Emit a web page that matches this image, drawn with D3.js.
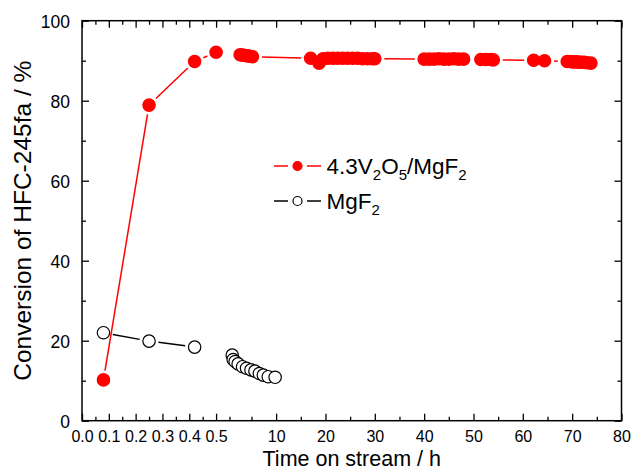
<!DOCTYPE html>
<html>
<head>
<meta charset="utf-8">
<script src="https://cdn.jsdelivr.net/npm/d3@7"></script>
<style>
  body { margin: 0; background: #fff; }
  svg { font-family: "Liberation Sans", Arial, sans-serif; }
</style>
</head>
<body>
<svg id="chart"></svg>
<script>

// DATA
const vTime = [0.08, 0.25, 0.42, 0.5,
  2.7, 3.2, 3.7, 4.2, 4.7, 5.2,
  17, 18.7, 19.5, 20.5, 21.5, 22.5, 23.5, 24.5, 25.5, 26.5, 27.5, 28.5, 29.5, 30,
  40, 41, 42, 43, 44, 45, 46, 47, 48,
  51.5, 52.5, 53.5, 54,
  62.2, 64.4,
  69, 69.5, 70, 70.5, 71, 71.5, 72, 72.5, 73, 73.8];
const vConv = [10.2, 78.9, 89.8, 92.1,
  91.5, 91.4, 91.3, 91.2, 91.1, 91.0,
  90.6, 89.4, 90.5, 90.6, 90.6, 90.6, 90.6, 90.6, 90.6, 90.6, 90.5, 90.5, 90.5, 90.5,
  90.4, 90.4, 90.4, 90.5, 90.4, 90.4, 90.5, 90.4, 90.4,
  90.3, 90.3, 90.3, 90.2,
  90.1, 90.0,
  89.8, 89.8, 89.7, 89.7, 89.7, 89.6, 89.6, 89.6, 89.5, 89.4];

const mTime = [0.08, 0.25, 0.42, 1.1, 1.3, 1.7, 2.3, 3.2, 4.0, 4.9, 5.7, 6.6, 7.4, 8.4, 9.8];
const mConv = [22.0, 19.9, 18.4, 16.4, 15.3, 14.8, 14.2, 13.5, 13.1, 12.7, 12.4, 11.8, 11.4, 11.0, 10.85];

// tick values: the x axis is broken at 0.55 h
const xMajor = [0, 0.1, 0.2, 0.3, 0.4, 0.5, 10, 20, 30, 40, 50, 60, 70, 80];
const xMinor = [0.05, 0.15, 0.25, 0.35, 0.45, 0.55, 5, 15, 25, 35, 45, 55, 65, 75];
const yMajor = [0, 20, 40, 60, 80, 100];
const yMinor = [10, 30, 50, 70, 90];
const xBreak = 0.55;

const width = 631, height = 470;
const margin = { top: 20.7, right: 9.5, bottom: 49.3, left: 82 };

const svg = d3.select("#chart")
  .attr("width", width)
  .attr("height", height);

// + SCALES
const xScale = d3.scaleLinear()
  .domain([0, xBreak, 80])
  .range([margin.left, 229.5, width - margin.right]);

const yScale = d3.scaleLinear()
  .domain([0, 100])
  .range([height - margin.bottom, margin.top]);

const x0 = margin.left, x1 = width - margin.right;
const y0 = height - margin.bottom, y1 = margin.top;

// + AXES (ticks point inwards, mirrored on top and right)
const fmtX = d => d < 1 ? d.toFixed(1) : d3.format("d")(d);

function addAxis(axis, tx, ty, showLabels, fs) {
  const g = svg.append("g")
    .attr("transform", `translate(${tx}, ${ty})`)
    .call(axis);
  g.select(".domain").remove();
  g.selectAll("line").attr("stroke", "#000").attr("stroke-width", 1.3);
  g.selectAll("text").attr("fill", "#000").attr("font-size", fs || 16)
    .style("display", showLabels ? null : "none");
  return g;
}

addAxis(d3.axisBottom(xScale).tickValues(xMajor).tickSize(-7).tickPadding(9.5).tickFormat(fmtX), 0, y0, true, 16);
addAxis(d3.axisBottom(xScale).tickValues(xMinor).tickSize(-4).tickFormat(""), 0, y0, false);
addAxis(d3.axisTop(xScale).tickValues(xMajor).tickSize(-7).tickFormat(""), 0, y1, false);
addAxis(d3.axisTop(xScale).tickValues(xMinor).tickSize(-4).tickFormat(""), 0, y1, false);

addAxis(d3.axisLeft(yScale).tickValues(yMajor).tickSize(-7).tickPadding(12), x0, 0, true, 17.5)
  .selectAll("text").attr("dy", "0.36em");
addAxis(d3.axisLeft(yScale).tickValues(yMinor).tickSize(-4).tickFormat(""), x0, 0, false);
addAxis(d3.axisRight(yScale).tickValues(yMajor).tickSize(-7).tickFormat(""), x1, 0, false);
addAxis(d3.axisRight(yScale).tickValues(yMinor).tickSize(-4).tickFormat(""), x1, 0, false);

// frame
svg.append("rect")
  .attr("x", x0).attr("y", y1)
  .attr("width", x1 - x0).attr("height", y0 - y1)
  .attr("fill", "none").attr("stroke", "#000").attr("stroke-width", 1.5);

// AXIS LABELS
svg.append("text")
  .attr("x", (x0 + x1) / 2).attr("y", 466)
  .attr("text-anchor", "middle").attr("font-size", 21.5)
  .text("Time on stream / h");

svg.append("text")
  .attr("transform", `translate(${31}, ${(y0 + y1) / 2}) rotate(-90)`)
  .attr("text-anchor", "middle").attr("font-size", 24.5)
  .text("Conversion of HFC-245fa / %");

// + LINES WITH A GAP TO EACH SYMBOL (no line across the axis break)
const gap = 9.5;
function drawSeries(times, convs, color, fill, r) {
  const pts = times.map((t, i) => ({ t, x: xScale(t), y: yScale(convs[i]) }));
  const segs = [];
  for (let i = 1; i < pts.length; i++) {
    const a = pts[i - 1], b = pts[i];
    if ((a.t <= xBreak) !== (b.t <= xBreak)) continue;
    const dx = b.x - a.x, dy = b.y - a.y;
    const d = Math.hypot(dx, dy);
    if (d <= 2 * gap) continue;
    const ux = dx / d, uy = dy / d;
    segs.push([a.x + ux * gap, a.y + uy * gap, b.x - ux * gap, b.y - uy * gap]);
  }
  const g = svg.append("g");
  g.selectAll("line")
    .data(segs)
    .join("line")
    .attr("x1", d => d[0]).attr("y1", d => d[1])
    .attr("x2", d => d[2]).attr("y2", d => d[3])
    .attr("stroke", color).attr("stroke-width", 1.5);
  g.selectAll("circle")
    .data(pts)
    .join("circle")
    .attr("cx", d => d.x).attr("cy", d => d.y)
    .attr("r", r)
    .attr("fill", fill)
    .attr("stroke", color).attr("stroke-width", 1.2);
}

drawSeries(mTime, mConv, "#000", "#fff", 6.2);
drawSeries(vTime, vConv, "#ff0000", "#ff0000", 6.2);

// + LEGEND
function legendRow(cy, color, fill, parts) {
  const g = svg.append("g");
  g.append("line").attr("x1", 274).attr("x2", 288).attr("y1", cy).attr("y2", cy)
    .attr("stroke", color).attr("stroke-width", 1.5);
  g.append("line").attr("x1", 307).attr("x2", 321).attr("y1", cy).attr("y2", cy)
    .attr("stroke", color).attr("stroke-width", 1.5);
  g.append("circle").attr("cx", 297.5).attr("cy", cy).attr("r", 4.5)
    .attr("fill", fill).attr("stroke", color).attr("stroke-width", 1.2);
  const txt = g.append("text").attr("x", 326.5).attr("y", cy + 8).attr("font-size", 22.5);
  parts.forEach(p => {
    txt.append("tspan")
      .attr("font-size", p.sub ? 15 : 22.5)
      .attr("dy", p.sub ? 6 : (p.after ? -6 : 0))
      .text(p.s);
  });
}

legendRow(166, "#ff0000", "#ff0000", [
  { s: "4.3V" }, { s: "2", sub: true }, { s: "O", after: true }, { s: "5", sub: true },
  { s: "/MgF", after: true }, { s: "2", sub: true }
]);
legendRow(201, "#000", "#fff", [{ s: "MgF" }, { s: "2", sub: true }]);

</script>
</body>
</html>
